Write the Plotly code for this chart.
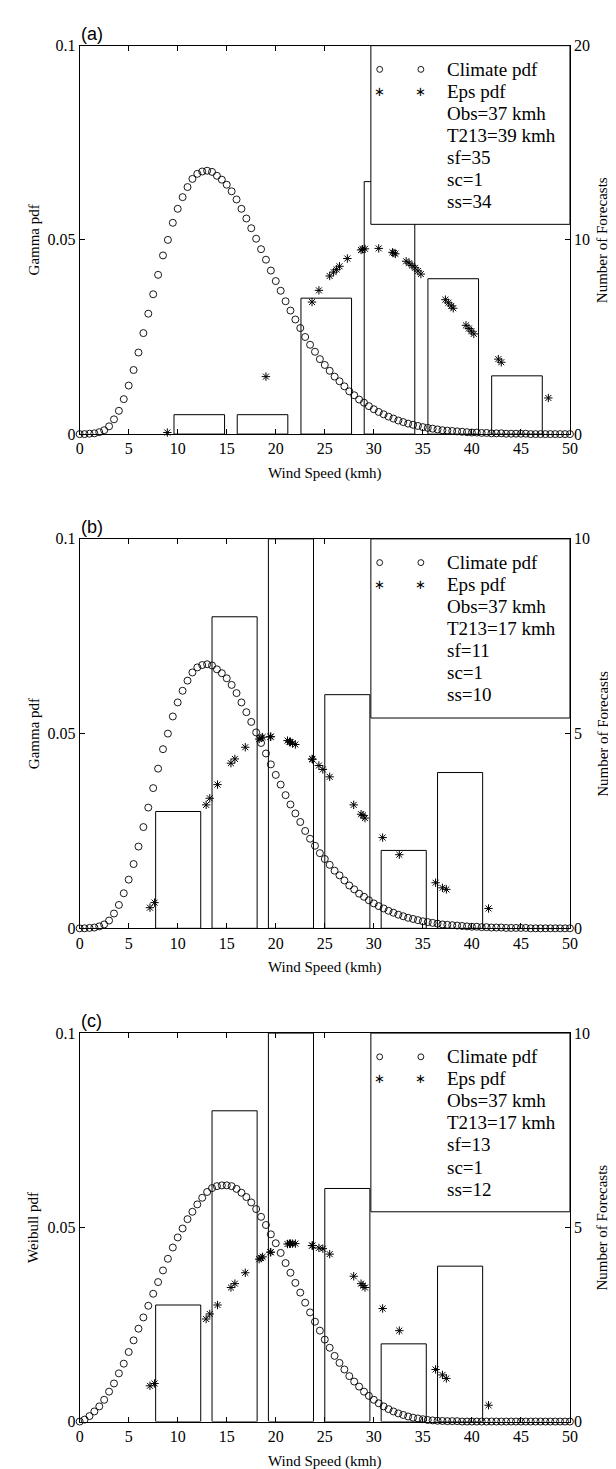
import plotly.graph_objects as go

# ---------------- data ----------------
wind_grid = [0, 0.5, 1, 1.5, 2, 2.5, 3, 3.5, 4, 4.5,
             5, 5.5, 6, 6.5, 7, 7.5, 8, 8.5, 9, 9.5,
             10, 10.5, 11, 11.5, 12, 12.5, 13, 13.5, 14, 14.5,
             15, 15.5, 16, 16.5, 17, 17.5, 18, 18.5, 19, 19.5,
             20, 20.5, 21, 21.5, 22, 22.5, 23, 23.5, 24, 24.5,
             25, 25.5, 26, 26.5, 27, 27.5, 28, 28.5, 29, 29.5,
             30, 30.5, 31, 31.5, 32, 32.5, 33, 33.5, 34, 34.5,
             35, 35.5, 36, 36.5, 37, 37.5, 38, 38.5, 39, 39.5,
             40, 40.5, 41, 41.5, 42, 42.5, 43, 43.5, 44, 44.5,
             45, 45.5, 46, 46.5, 47, 47.5, 48, 48.5, 49, 49.5,
             50]

climate_gamma = [0, 0, 0.0001, 0.0002, 0.0005, 0.001, 0.002, 0.0038, 0.006, 0.009,
                 0.0125, 0.0165, 0.021, 0.026, 0.031, 0.036, 0.041, 0.046, 0.050, 0.0544,
                 0.058, 0.061, 0.0636, 0.0657, 0.067, 0.0676, 0.0678, 0.0675, 0.0665, 0.0655,
                 0.0642, 0.0625, 0.0604, 0.058, 0.0555, 0.053, 0.0503, 0.0476, 0.0449, 0.0421,
                 0.0394, 0.0369, 0.0342, 0.0318, 0.0295, 0.0273, 0.025, 0.023, 0.0212, 0.0193,
                 0.0178, 0.0163, 0.0148, 0.0136, 0.0123, 0.011, 0.010, 0.0089, 0.0081, 0.0072,
                 0.0064, 0.0057, 0.0051, 0.0045, 0.0040, 0.0035, 0.0031, 0.0027, 0.0024, 0.0021,
                 0.0018, 0.0016, 0.0014, 0.0012, 0.0010, 0.0009, 0.0008, 0.0007, 0.0006, 0.0005,
                 0.0004, 0.0004, 0.0003, 0.0003, 0.0002, 0.0002, 0.0002, 0.0001, 0.0001, 0.0001,
                 0.0001, 0.0001, 0, 0, 0, 0, 0, 0, 0, 0,
                 0]

climate_weibull = [0, 0.0005, 0.0014, 0.0026, 0.0039, 0.0056, 0.0077, 0.0098, 0.0124, 0.0149,
                   0.0179, 0.0209, 0.0239, 0.0268, 0.0298, 0.0329, 0.0359, 0.0389, 0.0419, 0.0448,
                   0.0474, 0.0497, 0.0521, 0.054, 0.0559, 0.0576, 0.0591, 0.0601, 0.0606, 0.0608,
                   0.0608, 0.0606, 0.0599, 0.0589, 0.0578, 0.0564, 0.0547, 0.0527, 0.0506, 0.0482,
                   0.0459, 0.0434, 0.0408, 0.0383, 0.0357, 0.0332, 0.0306, 0.0281, 0.0257, 0.0234,
                   0.0211, 0.019, 0.0169, 0.0151, 0.0134, 0.0117, 0.0103, 0.009, 0.0077, 0.0066,
                   0.0056, 0.0047, 0.0039, 0.0032, 0.0026, 0.0021, 0.0017, 0.0013, 0.001, 0.0008,
                   0.0006, 0.0004, 0.0003, 0.0002, 0.00015, 0.0001, 0.0001, 0.0001, 0, 0,
                   0, 0, 0, 0, 0, 0, 0, 0, 0, 0,
                   0, 0, 0, 0, 0, 0, 0, 0, 0, 0,
                   0]

# panel (a) ensemble members and their gamma-pdf values
eps_a_x = [8.94, 19.0, 23.7, 24.4, 25.5, 25.9, 26.2, 26.5, 27.3, 28.7, 28.85, 29.1,
           30.5, 31.9, 32.05, 32.2, 33.3, 33.6, 33.9, 34.2, 34.5, 34.8,
           37.3, 37.6, 37.9, 38.1, 39.4, 39.7, 39.95, 40.2, 42.7, 43.0, 47.8]
eps_a_y = [0.0004, 0.0148, 0.034, 0.037, 0.0407, 0.0417, 0.0424, 0.0432, 0.0452, 0.0474, 0.0476, 0.0477,
           0.0478, 0.0468, 0.0466, 0.0464, 0.0445, 0.0440, 0.0434, 0.0428, 0.0420, 0.0412,
           0.0346, 0.0338, 0.0330, 0.0324, 0.0280, 0.0272, 0.0265, 0.0258, 0.0193, 0.0185, 0.0093]

# panels (b) and (c): same ensemble members
eps_bc_x = [7.17, 7.64, 12.9, 13.27, 14.06, 15.43, 15.83, 16.89, 18.31, 18.5, 18.66,
            19.45, 19.5, 21.2, 21.4, 21.5, 21.7, 22.0, 23.7, 23.75, 24.4,
            24.8, 25.5, 27.95, 28.7, 28.9, 29.1, 30.9, 32.6, 36.3, 37.0, 37.4, 41.7]
eps_b_y = [0.0053, 0.0066, 0.0317, 0.0334, 0.0369, 0.0424, 0.0435, 0.0465, 0.0486, 0.0489, 0.0491,
           0.0492, 0.0492, 0.0482, 0.0479, 0.0478, 0.0475, 0.0472, 0.0435, 0.0434, 0.0418,
           0.0408, 0.0389, 0.0317, 0.0293, 0.0290, 0.0283, 0.0233, 0.0189, 0.0117, 0.0104, 0.0100, 0.0051]
eps_c_y = [0.0092, 0.0098, 0.0264, 0.0277, 0.0300, 0.0345, 0.0355, 0.0383, 0.0418, 0.0421, 0.0424,
           0.0436, 0.0436, 0.0457, 0.0458, 0.0458, 0.0458, 0.0458, 0.0453, 0.0453, 0.0447,
           0.0445, 0.0431, 0.0374, 0.0355, 0.0350, 0.0345, 0.0291, 0.0234, 0.0134, 0.0120, 0.0111, 0.0042]

bins_a = [12.2, 18.65, 25.15, 31.6, 38.1, 44.6]
counts_a = [1, 1, 7, 13, 8, 3]
bins_bc = [10.05, 15.8, 21.55, 27.3, 33.05, 38.8]
counts_bc = [3, 8, 10, 6, 2, 4]

x_ticks = [0, 5, 10, 15, 20, 25, 30, 35, 40, 45, 50]
pdf_ticks = [0, 0.05, 0.1]
pdf_ticktext = ["0", "0.05", "0.1"]

legend_a = ["Obs=37 kmh", "T213=39 kmh", "sf=35", "sc=1", "ss=34"]
legend_b = ["Obs=37 kmh", "T213=17 kmh", "sf=11", "sc=1", "ss=10"]
legend_c = ["Obs=37 kmh", "T213=17 kmh", "sf=13", "sc=1", "ss=12"]

# ---------------- layout helpers ----------------
W, H = 616, 1469
LEFT, RIGHT = 69, 569
SERIF = "Liberation Serif"
SANS = "Liberation Sans"


def fx(p):
    return p / W


def fy(p):
    return 1 - p / H


panels = [
    dict(label="(a)", top=30, bottom=423, ylab="Gamma pdf", climate=climate_gamma,
         ex=eps_a_x, ey=eps_a_y, bins=bins_a, counts=counts_a, rmax=20, legend=legend_a),
    dict(label="(b)", top=529, bottom=923, ylab="Gamma pdf", climate=climate_gamma,
         ex=eps_bc_x, ey=eps_b_y, bins=bins_bc, counts=counts_bc, rmax=10, legend=legend_b),
    dict(label="(c)", top=1029, bottom=1422, ylab="Weibull pdf", climate=climate_weibull,
         ex=eps_bc_x, ey=eps_c_y, bins=bins_bc, counts=counts_bc, rmax=10, legend=legend_c),
]

fig = go.Figure()
layout = dict(width=W, height=H, margin=dict(l=0, r=0, t=0, b=0),
              paper_bgcolor="white", plot_bgcolor="white", showlegend=False,
              font=dict(family=SERIF, color="black", size=16))
shapes = []
annotations = []

for i, p in enumerate(panels):
    xa = "x" if i == 0 else f"x{i + 1}"
    yl = "y" if i == 0 else f"y{2 * i + 1}"
    yr = f"y{2 * i + 2}"
    xkey = "xaxis" if i == 0 else f"xaxis{i + 1}"
    ylkey = "yaxis" if i == 0 else f"yaxis{2 * i + 1}"
    yrkey = f"yaxis{2 * i + 2}"

    bw = 0.8 * (p["bins"][1] - p["bins"][0])
    fig.add_trace(go.Bar(x=p["bins"], y=p["counts"], width=[bw] * len(p["bins"]),
                         xaxis=xa, yaxis=yr, hoverinfo="skip",
                         marker=dict(color="rgba(0,0,0,0)", line=dict(color="black", width=1))))
    fig.add_trace(go.Scatter(x=wind_grid, y=p["climate"], mode="markers", xaxis=xa, yaxis=yl,
                             cliponaxis=False,
                             marker=dict(symbol="circle-open", size=7, color="black",
                                         line=dict(width=0.9, color="black"))))
    fig.add_trace(go.Scatter(x=p["ex"], y=p["ey"], mode="markers", xaxis=xa, yaxis=yl,
                             cliponaxis=False,
                             marker=dict(symbol="asterisk-open", size=7, color="black",
                                         line=dict(width=1, color="black"))))

    common = dict(showgrid=False, zeroline=False, showline=True, linecolor="black",
                  linewidth=1, ticks="inside", ticklen=5, tickcolor="black",
                  tickfont=dict(family=SERIF, size=16, color="black"))
    layout[xkey] = dict(domain=[fx(LEFT), fx(RIGHT)], range=[0, 50], anchor=yl,
                        tickvals=x_ticks, mirror="ticks", **common)
    layout[ylkey] = dict(domain=[fy(p["bottom"]), fy(p["top"])], range=[0, 0.1], anchor=xa,
                         tickvals=pdf_ticks, ticktext=pdf_ticktext, **common)
    rm = p["rmax"]
    layout[yrkey] = dict(overlaying=yl, side="right", anchor=xa, range=[0, rm],
                         tickvals=[0, rm / 2, rm], **common)

    # legend box
    shapes.append(dict(type="rect", xref=xa, yref=yl, x0=29.7, x1=50, y0=0.054, y1=0.1,
                       fillcolor="white", line=dict(color="black", width=1), layer="above"))
    top = p["top"]
    rows = ["Climate pdf", "Eps pdf"] + p["legend"]
    for k, txt in enumerate(rows):
        yy = top + 24 + 22.3 * k
        annotations.append(dict(text=txt, x=fx(442), y=fy(yy), xref="paper", yref="paper",
                                xanchor="left", yanchor="middle", showarrow=False,
                                font=dict(family=SERIF, size=19, color="black")))
    for mx in (375, 417):
        shapes.append(dict(type="circle", xref="paper", yref="paper",
                           x0=fx(mx - 3), x1=fx(mx + 3), y0=fy(top + 24 + 3), y1=fy(top + 24 - 3),
                           line=dict(color="black", width=0.9), fillcolor="white", layer="above"))
        annotations.append(dict(text="∗", x=fx(mx), y=fy(top + 24 + 22.3), xref="paper",
                                yref="paper", xanchor="center", yanchor="middle", showarrow=False,
                                font=dict(family="DejaVu Sans", size=13, color="black")))

    # panel label
    annotations.append(dict(text=p["label"], x=fx(LEFT - 1), y=fy(top - 12), xref="paper",
                            yref="paper", xanchor="left", yanchor="middle", showarrow=False,
                            font=dict(family=SANS, size=18, color="black")))
    mid = (p["top"] + p["bottom"]) / 2
    annotations.append(dict(text="Wind Speed (kmh)", x=fx((LEFT + RIGHT) / 2),
                            y=fy(p["bottom"] + 40), xref="paper", yref="paper",
                            xanchor="center", yanchor="middle", showarrow=False,
                            font=dict(family=SERIF, size=15, color="black")))
    annotations.append(dict(text=p["ylab"], x=fx(22), y=fy(mid), xref="paper", yref="paper",
                            xanchor="center", yanchor="middle", showarrow=False, textangle=-90,
                            font=dict(family=SERIF, size=15, color="black")))
    annotations.append(dict(text="Number of Forecasts", x=fx(602), y=fy(mid), xref="paper",
                            yref="paper", xanchor="center", yanchor="middle", showarrow=False,
                            textangle=-90, font=dict(family=SERIF, size=15, color="black")))

layout["shapes"] = shapes
layout["annotations"] = annotations
fig.update_layout(**layout)
fig.write_html("out.html")
